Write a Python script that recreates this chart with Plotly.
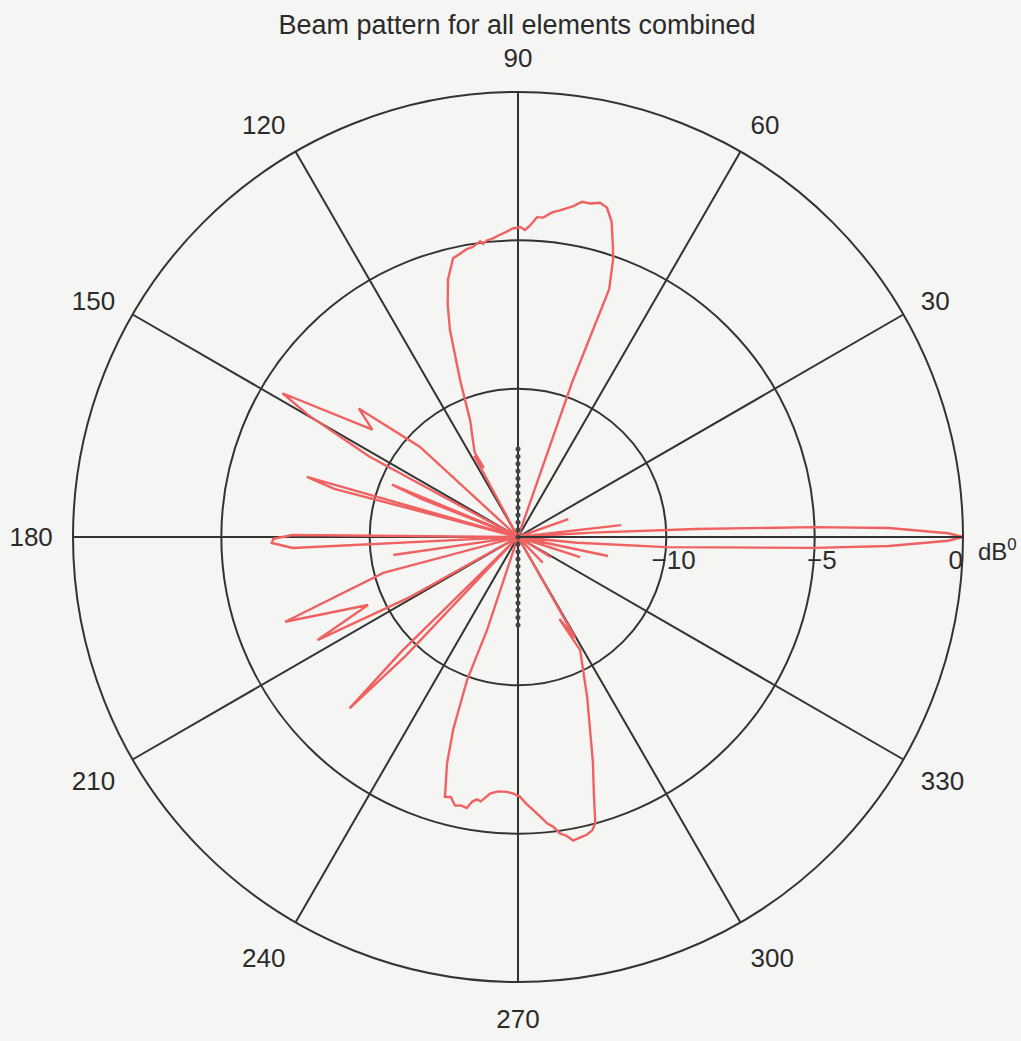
import plotly.graph_objects as go

# Combined beam pattern (dB, clipped at -15 dB) versus bearing in degrees
theta_deg = [
    0.0, 0.5, 1.4, 1.9, 2.6, 3.4, 4.5, 6.6, 8.5, 17.5, 19.5, 21.5,
    60.0, 70.7, 69.8, 71.1, 71.9, 73.5, 74.9, 76.2, 77.8, 79.2, 80.6, 82.7,
    84.0, 85.5, 86.6, 87.8, 88.7, 89.6, 91.0, 92.1, 93.5, 94.8, 96.0, 96.8,
    97.3, 98.8, 100.2, 101.5, 103.1, 105.2, 106.8, 108.2, 110.3, 112.3, 115.0,
    117.1, 116.3, 118.3, 121.0,
    134.0, 137.4, 141.1, 143.6, 148.6, 149.8, 151.6, 153.5,
    155.8, 157.4, 158.5, 160.0,
    162.5, 164.1, 165.3, 167.0,
    179.3, 179.5, 180.4, 181.4, 182.8, 183.5,
    186.5, 188.2, 189.8,
    192.5, 194.9, 200.0, 204.4, 207.2, 209.1, 211.0,
    223.0, 224.5, 225.5, 226.6, 228.0,
    249.0, 251.6, 250.4, 251.4, 252.6, 254.3, 255.5, 256.8, 258.0, 259.3,
    260.2, 261.1, 262.0, 263.8, 265.5, 267.5, 269.0, 270.4, 271.8, 273.1,
    274.5, 275.8, 277.0, 278.1, 279.2, 280.3, 281.5, 283.0, 284.2, 285.1,
    286.5, 288.4, 293.3, 298.8, 296.8, 299.6, 301.5,
    312.5, 314.0, 315.5,
    327.0, 328.5, 330.0,
    340.5, 342.0, 343.5,
    346.5, 348.1, 350.0,
    353.0, 354.5, 356.1, 357.9, 358.6, 359.5, 360.0,
]
r_db = [
    0.0, -0.5, -2.5, -5.0, -9.0, -12.5, -15.0, -11.5, -15.0, -15.0, -13.2, -15.0,
    -15.0, -9.4, -6.1, -5.1, -4.7, -3.9, -3.5, -3.4, -3.5, -3.5, -3.7, -3.9,
    -4.0, -4.2, -4.2, -4.5, -4.65, -4.55, -4.6, -4.7, -4.8, -4.9, -4.95, -5.05,
    -4.95, -5.1, -5.15, -5.25, -5.35, -6.0, -6.8, -7.65, -9.4, -10.75, -11.4,
    -11.8, -12.4, -11.9, -15.0,
    -15.0, -10.5, -8.1, -8.9, -5.7, -6.8, -9.3, -15.0,
    -15.0, -10.4, -11.5, -15.0,
    -15.0, -7.6, -8.6, -15.0,
    -15.0, -7.4, -6.75, -6.7, -7.4, -15.0,
    -15.0, -10.75, -15.0,
    -15.0, -10.3, -6.65, -9.45, -7.4, -10.85, -15.0,
    -15.0, -9.5, -6.9, -9.5, -15.0,
    -15.0, -11.7, -9.9, -8.15, -7.0, -5.9, -5.95, -5.7, -5.75, -5.7,
    -5.95, -6.05, -6.0, -6.3, -6.4, -6.4, -6.35, -6.25, -6.0, -5.8,
    -5.55, -5.3, -5.15, -4.9, -4.8, -4.6, -4.65, -4.7, -4.8, -5.0,
    -6.0, -7.0, -9.1, -10.65, -11.9, -11.1, -15.0,
    -15.0, -13.8, -15.0,
    -15.0, -13.7, -15.0,
    -15.0, -12.8, -15.0,
    -15.0, -11.9, -15.0,
    -15.0, -13.0, -10.0, -5.0, -2.5, -0.5, 0.0,
]

# Element positions along the array axis (element index, centre = 0)
element_index = [-12, -11, -10, -9, -8, -7, -6, -5, -4, -3, -2, -1, 0,
                 1, 2, 3, 4, 5, 6, 7, 8, 9, 10, 11, 12]
element_pitch_db = 0.247  # drawn spacing of the elements on the radial scale

# Axis ticks; the 0-degree bearing label is written beside the dB unit
radial_ticks = [-10, -5, 0]
radial_labels = ["\u2007\u221210", "\u2007\u22125", "0\u2007"]
angle_ticks = [30, 60, 90, 120, 150, 180, 210, 240, 270, 300, 330]
angle_labels = ["30", "60", "90", "120", "150", "180",
                "210", "240", "270", "300", "330"]
unit_label = "dB<sup>0</sup>"

R_MIN = -15

elem_r = [R_MIN + abs(k) * element_pitch_db for k in element_index]
elem_theta = [90 if k > 0 else 270 for k in element_index]

GRID = "#333333"
BG = "#f5f5f3"
TXT = "#2b2b2b"
FONT = "Liberation Sans, Arial, sans-serif"

fig = go.Figure()
fig.add_trace(go.Scatterpolar(
    r=r_db, theta=theta_deg, mode="lines",
    line=dict(color="#f06262", width=2.4),
    hoverinfo="skip", showlegend=False,
))
fig.add_trace(go.Scatterpolar(
    r=elem_r, theta=elem_theta, mode="markers",
    marker=dict(color="#454545", size=5),
    hoverinfo="skip", showlegend=False,
))

fig.update_layout(
    width=1021, height=1041,
    margin=dict(l=73, r=58, t=92, b=59),
    paper_bgcolor=BG, plot_bgcolor=BG,
    font=dict(family=FONT, size=26, color=TXT),
    title=dict(
        text="Beam pattern for all elements combined",
        x=(517 - 73) / 890, xanchor="center", xref="paper",
        y=1 - 25 / 1041, yanchor="middle", yref="container",
        font=dict(family=FONT, size=27, color=TXT),
    ),
    polar=dict(
        bgcolor=BG,
        domain=dict(x=[0, 1], y=[0, 1]),
        radialaxis=dict(
            range=[R_MIN, 0], tickvals=radial_ticks, ticktext=radial_labels,
            angle=0, side="clockwise", ticks="",
            showline=True, linecolor=GRID, linewidth=1.8,
            gridcolor=GRID, gridwidth=1.8,
            tickfont=dict(family=FONT, size=26, color=TXT),
        ),
        angularaxis=dict(
            rotation=0, direction="counterclockwise",
            tickvals=angle_ticks, ticktext=angle_labels,
            ticks="outside", ticklen=14, tickcolor="rgba(0,0,0,0)",
            showline=True, linecolor=GRID, linewidth=2,
            gridcolor=GRID, gridwidth=1.8,
            tickfont=dict(family=FONT, size=26, color=TXT),
        ),
    ),
    annotations=[dict(
        text=unit_label, x=(976 - 73) / 890, y=(1041 - 59 - 550) / 890,
        xref="paper", yref="paper", xanchor="left", yanchor="middle",
        showarrow=False, font=dict(family=FONT, size=24, color=TXT),
    )],
)

fig.write_html("out.html")
